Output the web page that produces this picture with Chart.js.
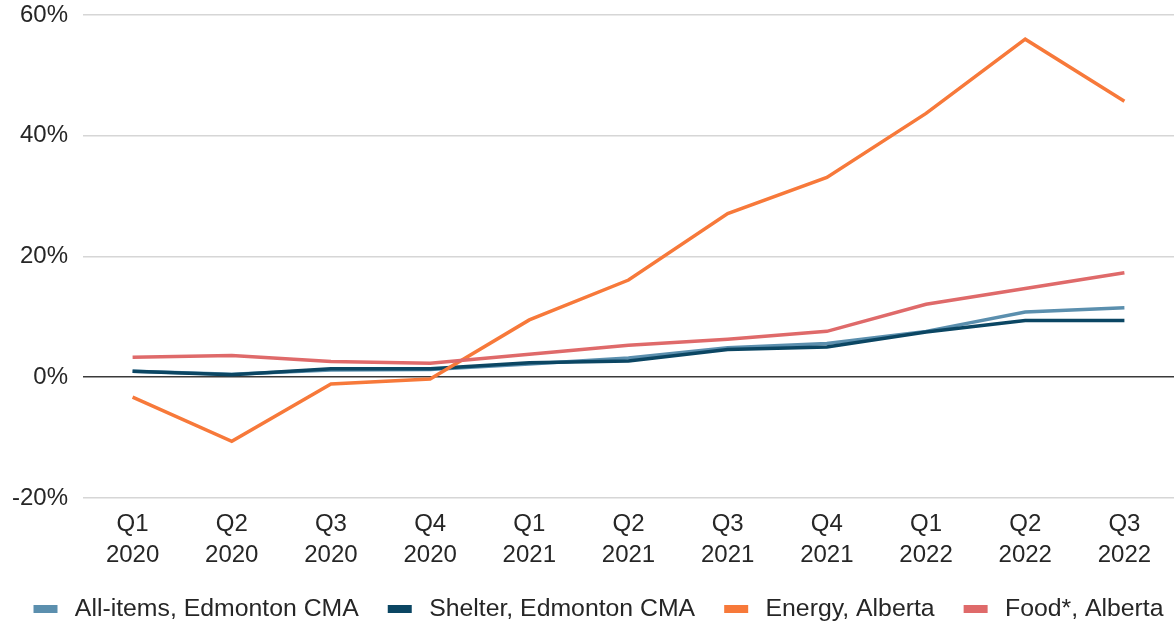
<!DOCTYPE html>
<html>
<head>
<meta charset="utf-8">
<script src="https://cdn.jsdelivr.net/npm/chart.js@4"></script>
<style>
  html, body { margin: 0; padding: 0; background: #ffffff; }
  #wrap { width: 1174px; height: 625px; position: relative; }
</style>
</head>
<body>
<div id="wrap"><canvas id="cpi"></canvas></div>
<script>
// Quarterly year-over-year change, Q1 2020 to Q3 2022
const quarters = [
  ['Q1', '2020'], ['Q2', '2020'], ['Q3', '2020'], ['Q4', '2020'],
  ['Q1', '2021'], ['Q2', '2021'], ['Q3', '2021'], ['Q4', '2021'],
  ['Q1', '2022'], ['Q2', '2022'], ['Q3', '2022']
];
const allItemsEdmonton = [1.0, 0.5, 1.2, 1.3, 2.2, 3.2, 4.9, 5.6, 7.6, 10.8, 11.5];
const shelterEdmonton  = [1.0, 0.4, 1.4, 1.4, 2.4, 2.7, 4.6, 5.0, 7.5, 9.4, 9.4];
const energyAlberta    = [-3.3, -10.6, -1.1, -0.3, 9.5, 16.1, 27.1, 33.1, 43.7, 56.0, 45.7];
const foodAlberta      = [3.3, 3.6, 2.6, 2.3, 3.8, 5.3, 6.3, 7.6, 12.1, 14.7, 17.3];
const seriesNames = ['All-items, Edmonton CMA', 'Shelter, Edmonton CMA', 'Energy, Alberta', 'Food*, Alberta'];
const yTicks = [-20, 0, 20, 40, 60];

const font = 'Liberation Sans, Arial, sans-serif';
const FS = 24;
const LEGEND_FS = 24.8;
const SWATCH_TILE = 52;   // legend box width
const SWATCH_LEAD = 23;   // blank space before the bar inside the box

// Legend swatch: a short flat bar with lead-in space on its left
function swatch(color) {
  const c = document.createElement('canvas');
  c.width = SWATCH_TILE;
  c.height = 8;
  const g = c.getContext('2d');
  g.fillStyle = color;
  g.fillRect(SWATCH_LEAD, 0, 24, 8);
  return c;
}

function line(label, data, color, order) {
  return {
    label, data,
    borderColor: color,
    backgroundColor: color,
    pointStyle: swatch(color),
    borderWidth: 3.5,
    pointRadius: 0,
    tension: 0,
    fill: false,
    order
  };
}

// Keep the legend box short so it sits close to the bottom edge
const legendHeight = {
  id: 'legendHeight',
  beforeInit(chart) {
    const fit = chart.legend.fit;
    chart.legend.fit = function () {
      fit.call(this);
      this.height = 34;
    };
  }
};

new Chart(document.getElementById('cpi'), {
  type: 'line',
  data: {
    labels: quarters,
    datasets: [
      line(seriesNames[0], allItemsEdmonton, '#5b8fae', 4),
      line(seriesNames[1], shelterEdmonton, '#0b4663', 3),
      line(seriesNames[2], energyAlberta, '#f7793a', 2),
      line(seriesNames[3], foodAlberta, '#df6a6a', 1)
    ]
  },
  plugins: [legendHeight],
  options: {
    responsive: true,
    maintainAspectRatio: false,
    animation: false,
    layout: { padding: 0 },
    plugins: {
      tooltip: { enabled: false },
      legend: {
        position: 'bottom',
        labels: {
          font: { family: font, size: LEGEND_FS },
          color: '#262626',
          usePointStyle: true,
          pointStyleWidth: SWATCH_TILE,
          boxHeight: 8,
          padding: 6,
          sort: (a, b) => a.datasetIndex - b.datasetIndex
        }
      }
    },
    scales: {
      x: {
        offset: true,
        grid: { display: false },
        border: { display: false },
        afterFit: (axis) => { axis.height = 93; },
        ticks: {
          font: { family: font, size: FS, lineHeight: 1.3 },
          color: '#262626',
          maxRotation: 0,
          autoSkip: false,
          padding: 3
        }
      },
      y: {
        min: -20,
        max: 60,
        afterBuildTicks: (axis) => { axis.ticks = yTicks.map(v => ({ value: v })); },
        afterFit: (axis) => { axis.width = 83; axis.paddingTop = 15; },
        border: { display: false },
        grid: {
          drawTicks: false,
          color: (ctx) => ctx.tick && ctx.tick.value === 0 ? '#3a3a3a' : '#d6d6d6',
          lineWidth: 1.6
        },
        ticks: {
          font: { family: font, size: FS },
          color: '#262626',
          padding: 15,
          callback: (v) => v + '%'
        }
      }
    }
  }
});
</script>
</body>
</html>
